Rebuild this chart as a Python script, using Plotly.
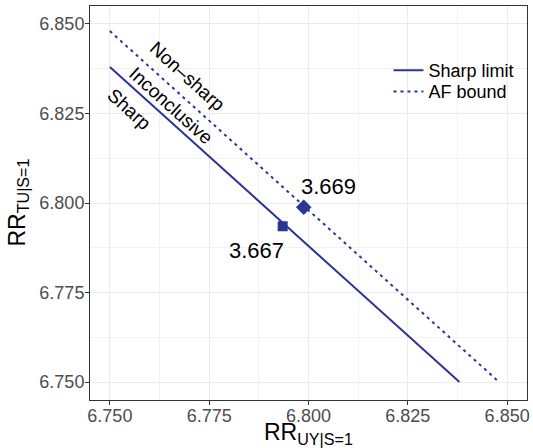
import plotly.graph_objects as go

# Data
sharp_x = [6.750, 6.838]
sharp_y = [6.838, 6.750]
af_x = [6.750, 6.848]
af_y = [6.848, 6.750]
sharp_pt_x = [6.7935]
sharp_pt_y = [6.7935]
sharp_pt_label = "3.667"
af_pt_x = [6.7988]
af_pt_y = [6.7988]
af_pt_label = "3.669"
region_labels = ["Sharp", "Inconclusive", "Non\u2013sharp"]
region_x = [6.7550, 6.7654, 6.7696]
region_y = [6.8262, 6.8273, 6.8354]
ticks = [6.750, 6.775, 6.800, 6.825, 6.850]
tick_text = ["6.750", "6.775", "6.800", "6.825", "6.850"]

col = "#2b3595"
fnt = "Liberation Sans, Arial, sans-serif"

fig = go.Figure()
fig.add_trace(go.Scatter(x=sharp_x, y=sharp_y, mode="lines", name="Sharp limit",
                         line=dict(color=col, width=2), legend="legend"))
fig.add_trace(go.Scatter(x=af_x, y=af_y, mode="lines", name="AF bound",
                         line=dict(color=col, width=2, dash="3px,4px"), legend="legend2"))
fig.add_trace(go.Scatter(x=sharp_pt_x, y=sharp_pt_y, mode="markers", showlegend=False,
                         marker=dict(symbol="square", size=10, color=col)))
fig.add_trace(go.Scatter(x=af_pt_x, y=af_pt_y, mode="markers", showlegend=False,
                         marker=dict(symbol="diamond", size=12, color=col)))

fig.add_annotation(x=6.7869, y=6.7868, text=sharp_pt_label, showarrow=False,
                   font=dict(size=22, color="black", family=fnt))
fig.add_annotation(x=6.80504, y=6.8045, text=af_pt_label, showarrow=False,
                   font=dict(size=22, color="black", family=fnt))
for t, xx, yy in zip(region_labels, region_x, region_y):
    fig.add_annotation(x=xx, y=yy, text=t, showarrow=False, textangle=42,
                       font=dict(size=19, color="black", family=fnt))

# axis titles
fig.add_annotation(xref="paper", yref="paper", x=0.5, y=0, xanchor="center", yanchor="top",
                   yshift=-17, showarrow=False, text="RR<sub>UY|S=1</sub>",
                   font=dict(size=23, color="black", family=fnt))
fig.add_annotation(xref="paper", yref="paper", x=0, y=0.5, xanchor="right", yanchor="middle",
                   xshift=-56, showarrow=False, textangle=-90, text="RR<sub>TU|S=1</sub>",
                   font=dict(size=23, color="black", family=fnt))

axis_common = dict(
    range=[6.745, 6.855], tickvals=ticks, ticktext=tick_text, automargin=False,
    showgrid=True, gridcolor="#ebebeb", gridwidth=1,
    minor=dict(showgrid=True, gridcolor="#f2f2f2", gridwidth=1, tickvals=[6.7625, 6.7875, 6.8125, 6.8375]),
    zeroline=False, showline=True, linecolor="#333333", linewidth=1, mirror=True,
    ticks="outside", ticklen=4, tickcolor="#333333",
    tickfont=dict(size=18, color="#4d4d4d", family=fnt),
)
fig.update_xaxes(**axis_common, ticklabelstandoff=-5)
fig.update_yaxes(**axis_common, ticklabelstandoff=-3)

leg_common = dict(xanchor="left", yanchor="top", bgcolor="rgba(0,0,0,0)",
                  font=dict(size=18, color="black", family=fnt), itemwidth=30)
fig.update_layout(
    width=533, height=448,
    margin=dict(l=90, r=6, t=6, b=48),
    plot_bgcolor="white", paper_bgcolor="white",
    font=dict(family=fnt),
    legend=dict(x=0.683, y=0.883, **leg_common),
    legend2=dict(x=0.683, y=0.8295, **leg_common),
)

fig.write_html("out.html", config={"displayModeBar": False},
               post_script="document.body.style.margin='0';")
